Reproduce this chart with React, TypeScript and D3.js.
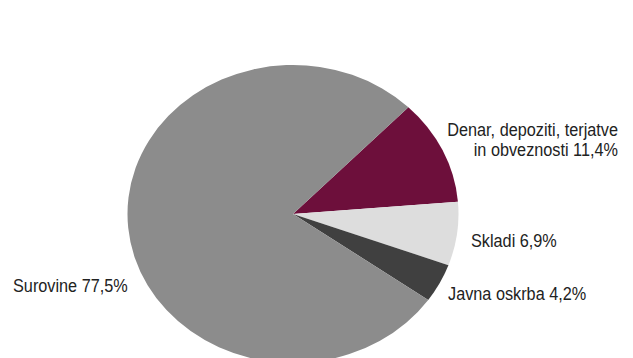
import React from "react";
import * as d3 from "d3";

const labels = ["Denar, depoziti, terjatve|in obveznosti 11,4%", "Skladi 6,9%", "Javna oskrba 4,2%", "Surovine 77,5%"];
const values = [11.4, 6.9, 4.2, 77.5];
const colors = ["#6d0f3b", "#dddddd", "#404040", "#8c8c8c"];

const W = 633, H = 358;
const cx = 293, cy = 214, rx = 165.5, ry = 149;
const startDeg = 44.2;
const squeeze = 0.93;

const labelPos = [
  { x: 618, y: 136, anchor: "end" },
  { x: 471, y: 247, anchor: "start" },
  { x: 448, y: 300, anchor: "start" },
  { x: 13, y: 292, anchor: "start" },
];

export default function App() {
  const pie = d3.pie<number>().sort(null).value(d => d)
    .startAngle((startDeg * Math.PI) / 180)
    .endAngle((startDeg * Math.PI) / 180 + 2 * Math.PI);
  const arcs = pie(values);
  const arc = d3.arc<d3.PieArcDatum<number>>().innerRadius(0).outerRadius(rx);
  const font = "'Liberation Sans', Arial, sans-serif";
  return (
    <svg width={W} height={H} style={{ position: "absolute", left: 0, top: 0, background: "#fff" }}>
      <g transform={`translate(${cx},${cy}) scale(1,${ry / rx})`}>
        {arcs.map((a, i) => (
          <path key={i} d={arc(a) || ""} fill={colors[i]} />
        ))}
      </g>
      {labels.map((l, i) => {
        const lines = l.split("|");
        const p = labelPos[i];
        return (
          <text key={i} transform={`translate(${p.x},${p.y}) scale(${squeeze},1)`} textAnchor={p.anchor} fontFamily={font} fontSize={17.5} fill="#222">
            {lines.map((ln, j) => (
              <tspan key={j} x={0} dy={j === 0 ? 0 : 20}>{ln}</tspan>
            ))}
          </text>
        );
      })}
    </svg>
  );
}
